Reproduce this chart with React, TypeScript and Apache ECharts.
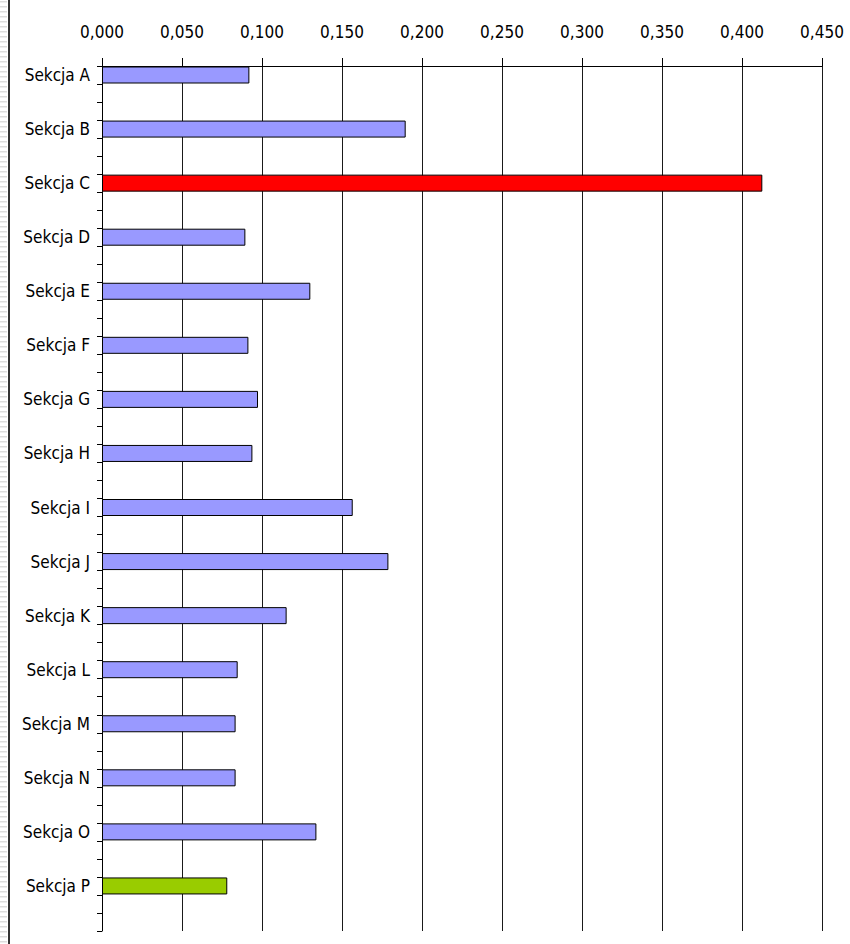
import React, { useEffect, useRef } from "react";
import * as echarts from "echarts";

const categories = [
  "Sekcja A", "Sekcja B", "Sekcja C", "Sekcja D", "Sekcja E", "Sekcja F", "Sekcja G", "Sekcja H",
  "Sekcja I", "Sekcja J", "Sekcja K", "Sekcja L", "Sekcja M", "Sekcja N", "Sekcja O", "Sekcja P",
];
const values = [
  0.0921, 0.1898, 0.4127, 0.0896, 0.1302, 0.0915, 0.0975, 0.094,
  0.1567, 0.179, 0.1154, 0.0848, 0.0835, 0.0835, 0.134, 0.0783,
];
const barColors = [
  "#9999FF", "#9999FF", "#FF0000", "#9999FF", "#9999FF", "#9999FF", "#9999FF", "#9999FF",
  "#9999FF", "#9999FF", "#9999FF", "#9999FF", "#9999FF", "#9999FF", "#9999FF", "#99CC00",
];
const xTicks = [0, 0.05, 0.1, 0.15, 0.2, 0.25, 0.3, 0.35, 0.4, 0.45];

const SLOTS_PER_CAT = 3;
const FONT = "'Liberation Sans Narrow', 'Arial Narrow', 'DejaVu Sans Condensed', 'Liberation Sans', Arial, sans-serif";

export default function App() {
  const ref = useRef<HTMLDivElement>(null);
  useEffect(() => {
    if (!ref.current) return;
    const chart = echarts.init(ref.current, undefined, { renderer: "svg" });

    const slotLabels: string[] = [];
    const slotData: any[] = [];
    categories.forEach((c, i) => {
      for (let k = 0; k < SLOTS_PER_CAT; k++) {
        slotLabels.push(k === 0 ? c : "");
        slotData.push(
          k === 0
            ? { value: values[i], itemStyle: { color: barColors[i] } }
            : null
        );
      }
    });

    const stripes: any[] = [];
    for (let y = 1; y < 944; y += 5) {
      stripes.push({
        type: "rect",
        shape: { x: 0, y, width: 7, height: 1.5 },
        style: { fill: "#dcdcdc" },
        silent: true,
      });
    }
    stripes.push({
      type: "rect",
      shape: { x: 8, y: 0, width: 2, height: 944 },
      style: { fill: "#333333" },
      silent: true,
    });

    chart.setOption({
      animation: false,
      backgroundColor: "#ffffff",
      grid: { left: 102, right: 28, top: 66, bottom: 13, containLabel: false },
      xAxis: {
        type: "value",
        position: "top",
        min: 0,
        max: xTicks[xTicks.length - 1],
        interval: 0.05,
        axisLine: { show: true, lineStyle: { color: "#000", width: 1 } },
        axisTick: { show: true, length: 8, lineStyle: { color: "#000" } },
        splitLine: { show: true, lineStyle: { color: "#1a1a1a", width: 1 } },
        axisLabel: {
          color: "#000",
          fontFamily: FONT,
          fontSize: 17,
          margin: 26,
          formatter: (v: number) => v.toFixed(3).replace(".", ","),
        },
      },
      yAxis: {
        type: "category",
        inverse: true,
        data: slotLabels,
        axisLine: { show: true, lineStyle: { color: "#000", width: 1 } },
        axisTick: { show: true, interval: 0, length: 5, lineStyle: { color: "#000" } },
        splitLine: { show: false },
        axisLabel: {
          interval: (i: number) => i % SLOTS_PER_CAT === 0,
          color: "#000",
          fontFamily: FONT,
          fontSize: 17,
          margin: 12,
        },
      },
      graphic: stripes,
      series: [
        {
          type: "bar",
          data: slotData,
          barWidth: 17,
          itemStyle: { borderColor: "#000", borderWidth: 1 },
        },
      ],
    });
    return () => chart.dispose();
  }, []);
  return (
    <div
      ref={ref}
      style={{ position: "absolute", left: 0, top: 0, width: 850, height: 944 }}
    />
  );
}
